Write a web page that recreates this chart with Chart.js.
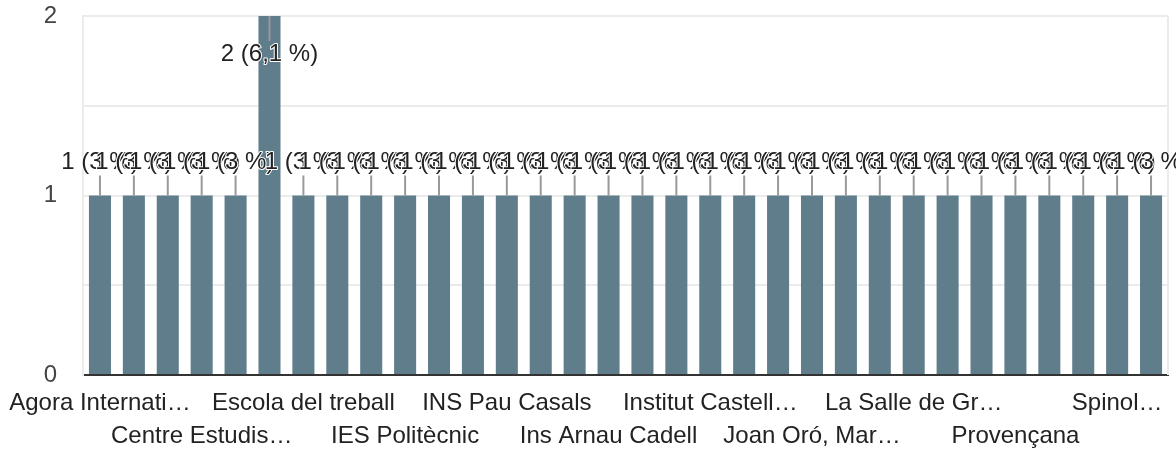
<!DOCTYPE html>
<html>
<head>
<meta charset="utf-8">
<script src="https://cdn.jsdelivr.net/npm/chart.js@4/dist/chart.umd.min.js"></script>
<style>
  html, body { margin: 0; padding: 0; background: #fff; }
  #wrap { position: relative; width: 1176px; height: 452px; }
</style>
</head>
<body>
<div id="wrap"><canvas id="chart"></canvas></div>
<script>
// categories, as shown (truncated ones are kept as they appear)
const categories = [
  'Agora Internati…', 'Aula Escola Europea', 'Betània Patmos', 'Centre Estudis…',
  'Col·legi Sant Ignasi', 'Escola Pia Sarrià', 'Escola del treball', 'IES Joan d\'Àustria',
  'IES Lacetània', 'IES Politècnic', 'INS Bernat el Ferrer', 'INS Jaume Balmes',
  'INS Pau Casals', 'INS Vila de Gràcia', 'INS la Mercè', 'Ins Arnau Cadell',
  'Ins Esteve Terradas', 'Institut Anna Gironella', 'Institut Castell…', 'Institut Joan Brossa',
  'Institut Mare de Déu', 'Joan Oró, Mar…', 'L\'Esperança', 'La Salle Bonanova',
  'La Salle de Gr…', 'Maristes Sants', 'Nou Patufet', 'Provençana',
  'Sagrat Cor', 'Salesians Sarrià', 'Spinol…', 'Virolai'
];
const counts = [
  1, 1, 1, 1, 1, 2, 1, 1,
  1, 1, 1, 1, 1, 1, 1, 1,
  1, 1, 1, 1, 1, 1, 1, 1,
  1, 1, 1, 1, 1, 1, 1, 1
];
const yTicks = [0, 1, 2];

const FONT = '"Liberation Sans", Arial, sans-serif';
const total = counts.reduce((a, b) => a + b, 0);

function pctLabel(v) {
  let p = (Math.round(v / total * 1000) / 10).toFixed(1);
  if (p.endsWith('.0')) p = p.slice(0, -2);
  return v + ' (' + p.replace('.', ',') + ' %)';
}

// stems + value labels (Google-style annotations) and right frame line
const annotations = {
  id: 'annotations',
  afterDatasetsDraw(chart) {
    const ctx = chart.ctx;
    const area = chart.chartArea;
    ctx.save();
    ctx.strokeStyle = '#ebebeb';
    ctx.lineWidth = 2;
    ctx.beginPath();
    ctx.moveTo(area.right, area.top);
    ctx.lineTo(area.right, area.bottom);
    ctx.stroke();

    const meta = chart.getDatasetMeta(0);
    ctx.font = '24px ' + FONT;
    ctx.textAlign = 'center';
    ctx.textBaseline = 'middle';
    meta.data.forEach(function(bar, i) {
      const stem = 20;
      let y1, ty;
      if (bar.y - stem - 28 < area.top) {
        y1 = bar.y + stem + 5;
        ty = y1 + 13;
      } else {
        y1 = bar.y - stem;
        ty = y1 - 13;
      }
      ctx.strokeStyle = '#999';
      ctx.lineWidth = 2;
      ctx.beginPath();
      ctx.moveTo(bar.x, bar.y);
      ctx.lineTo(bar.x, y1);
      ctx.stroke();

      const txt = pctLabel(counts[i]);
      ctx.lineWidth = 2;
      ctx.lineJoin = 'round';
      ctx.strokeStyle = '#fff';
      ctx.strokeText(txt, bar.x, ty);
      ctx.fillStyle = '#222';
      ctx.fillText(txt, bar.x, ty);
    });
    ctx.restore();
  }
};

new Chart(document.getElementById('chart'), {
  type: 'bar',
  data: {
    labels: categories,
    datasets: [{
      data: counts,
      backgroundColor: '#607d8b',
      barPercentage: 0.65,
      categoryPercentage: 1
    }]
  },
  options: {
    responsive: true,
    maintainAspectRatio: false,
    animation: false,
    layout: { padding: { top: 16, right: 8, left: 0, bottom: 0 } },
    plugins: {
      legend: { display: false },
      tooltip: { enabled: false }
    },
    scales: {
      x: {
        z: 1,
        grid: { display: false, drawTicks: false },
        border: { display: true, color: '#333', width: 2 },
        ticks: {
          autoSkip: false,
          maxRotation: 0,
          minRotation: 0,
          padding: 12,
          color: '#222',
          font: { family: FONT, size: 24, lineHeight: 1.375 },
          callback: function(v, i) {
            if (i % 3 !== 0) return '';
            return (i / 3) % 2 === 0 ? categories[i] : ['', categories[i]];
          }
        },
        afterFit: function(s) {
          s.height = 77;
          s.paddingLeft = 0;
          s.paddingRight = 0;
        }
      },
      y: {
        min: 0,
        max: 2,
        grid: { color: '#ebebeb', lineWidth: 2, drawTicks: false },
        border: { display: true, color: '#ebebeb', width: 2 },
        ticks: {
          stepSize: 0.5,
          padding: 26,
          color: '#444',
          font: { family: FONT, size: 24 },
          callback: function(v) { return yTicks.includes(v) ? String(v) : ''; }
        },
        afterFit: function(s) {
          s.width = 83;
          s.paddingTop = 0;
          s.paddingBottom = 0;
        }
      }
    }
  },
  plugins: [annotations]
});
</script>
</body>
</html>
